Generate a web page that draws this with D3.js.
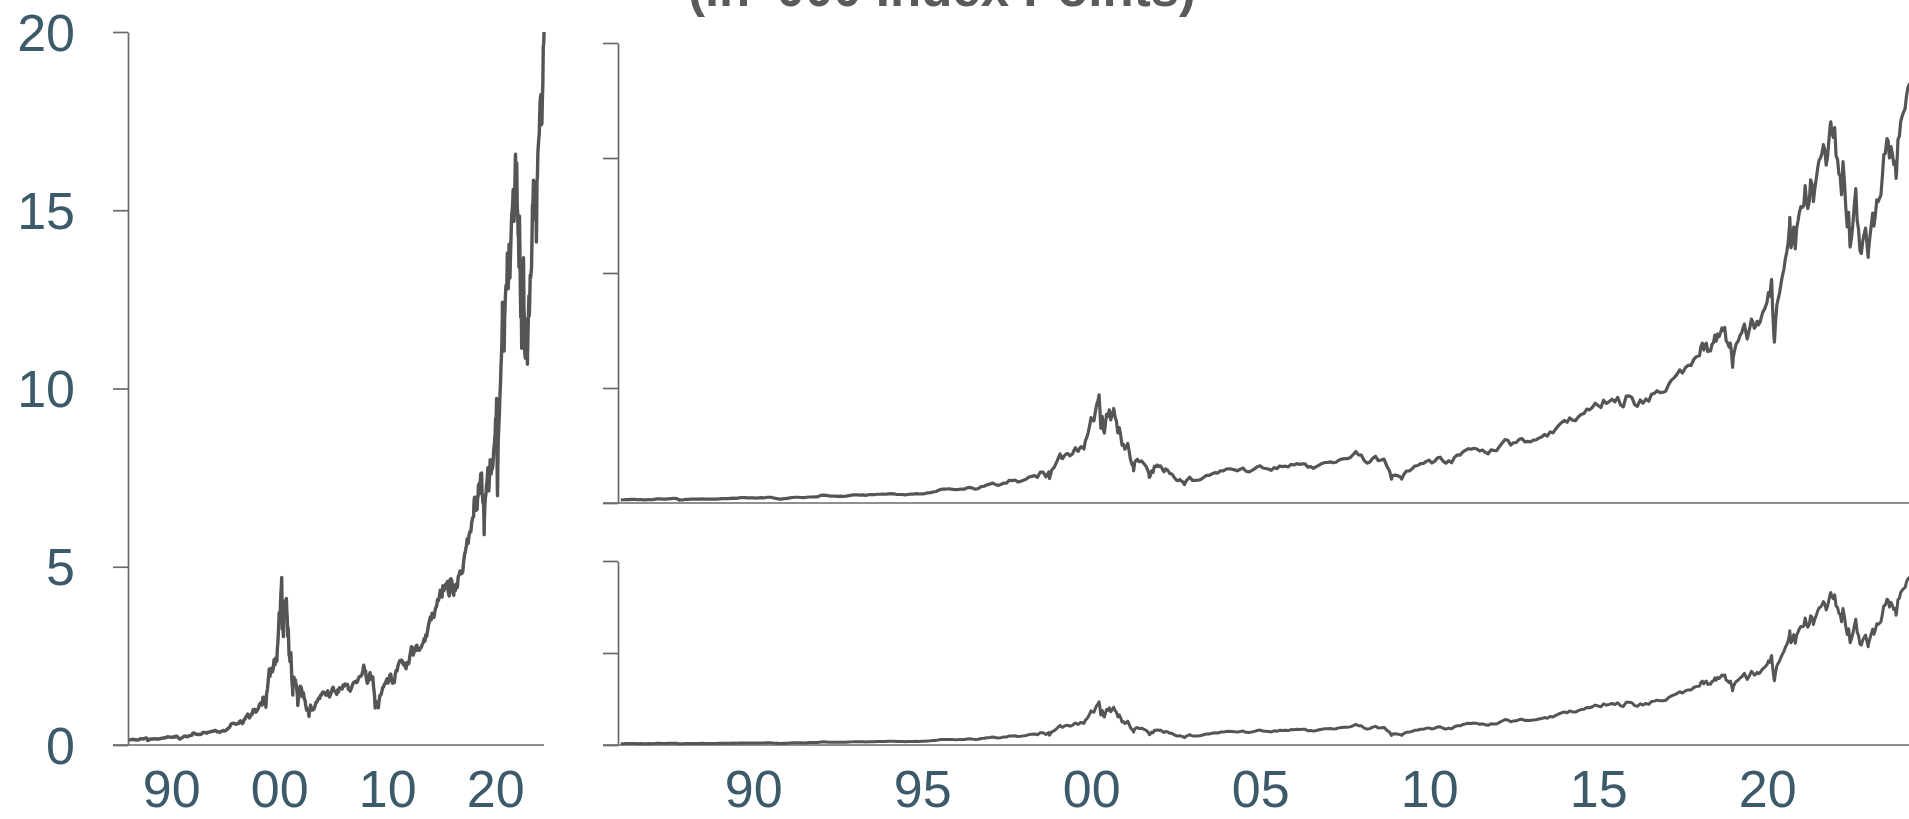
<!DOCTYPE html>
<html><head><meta charset="utf-8">
<script src="https://cdn.jsdelivr.net/npm/d3@7"></script>
<style>html,body{margin:0;padding:0;background:#fff;overflow:hidden}</style>
</head><body>
<svg id="chart" width="1909" height="819"></svg>
<script>
const title = "(in '000 Index Points)";
const years = [1986,1987,1988,1989,1990,1991,1992,1993,1994,1995,1996,1997,1998,1999,2000,2001,2002,2003,2004,2005,2006,2007,2008,2009,2010,2011,2012,2013,2014,2015,2016,2017,2018,2019,2020,2021,2022,2023,2024];
const monthlyClose = [
  [0.13,0.14,0.15,0.15,0.16,0.16,0.14,0.15,0.14,0.14,0.15,0.14],
  [0.16,0.18,0.18,0.17,0.17,0.18,0.19,0.20,0.19,0.14,0.13,0.16],
  [0.16,0.17,0.17,0.17,0.17,0.18,0.17,0.17,0.17,0.17,0.17,0.18],
  [0.19,0.19,0.19,0.20,0.21,0.20,0.22,0.23,0.23,0.22,0.22,0.22],
  [0.21,0.22,0.23,0.22,0.25,0.25,0.23,0.20,0.18,0.17,0.19,0.20],
  [0.22,0.24,0.25,0.25,0.24,0.23,0.25,0.26,0.26,0.27,0.27,0.33],
  [0.34,0.33,0.31,0.30,0.30,0.29,0.30,0.29,0.30,0.32,0.34,0.36],
  [0.35,0.34,0.35,0.33,0.36,0.36,0.36,0.38,0.38,0.39,0.38,0.40],
  [0.41,0.40,0.37,0.37,0.37,0.35,0.37,0.39,0.39,0.41,0.39,0.40],
  [0.41,0.44,0.45,0.48,0.50,0.56,0.60,0.60,0.61,0.61,0.59,0.58],
  [0.59,0.61,0.60,0.66,0.68,0.64,0.60,0.63,0.71,0.73,0.79,0.82],
  [0.87,0.81,0.76,0.80,0.87,0.86,0.99,0.97,1.00,0.92,0.94,0.99],
  [1.04,1.13,1.16,1.19,1.12,1.34,1.34,1.14,1.35,1.42,1.57,1.84],
  [2.13,1.93,2.11,2.13,2.09,2.30,2.28,2.39,2.41,2.71,3.06,3.71],
  [3.57,4.27,4.40,3.77,3.32,3.76,3.61,4.08,3.57,3.28,2.51,2.34],
  [2.59,1.91,1.57,1.85,1.80,1.83,1.68,1.47,1.17,1.33,1.58,1.58],
  [1.55,1.36,1.45,1.28,1.22,1.05,0.97,0.96,0.83,0.99,1.12,0.98],
  [0.98,0.99,1.02,1.11,1.20,1.20,1.27,1.32,1.30,1.40,1.40,1.47],
  [1.49,1.47,1.44,1.40,1.47,1.52,1.38,1.35,1.41,1.48,1.58,1.62],
  [1.52,1.50,1.48,1.42,1.54,1.49,1.61,1.58,1.60,1.57,1.68,1.65],
  [1.71,1.68,1.70,1.70,1.56,1.58,1.51,1.58,1.65,1.72,1.76,1.76],
  [1.79,1.75,1.77,1.86,1.91,1.93,1.93,1.97,2.09,2.24,2.09,2.08],
  [1.84,1.73,1.78,1.94,2.03,1.84,1.87,1.91,1.61,1.38,1.19,1.21],
  [1.18,1.11,1.23,1.39,1.40,1.48,1.61,1.63,1.71,1.72,1.81,1.86],
  [1.74,1.81,1.96,1.99,1.82,1.73,1.84,1.75,1.98,2.09,2.08,2.22],
  [2.30,2.36,2.34,2.38,2.35,2.26,2.30,2.20,2.14,2.31,2.29,2.28],
  [2.46,2.61,2.76,2.73,2.52,2.62,2.63,2.77,2.80,2.66,2.68,2.66],
  [2.73,2.74,2.82,2.87,2.98,2.91,3.09,3.05,3.22,3.37,3.49,3.59],
  [3.51,3.70,3.60,3.58,3.74,3.85,3.89,4.08,4.05,4.16,4.34,4.24],
  [4.15,4.47,4.33,4.41,4.51,4.40,4.59,4.27,4.18,4.65,4.66,4.59],
  [4.28,4.20,4.48,4.34,4.52,4.42,4.73,4.77,4.88,4.80,4.81,4.86],
  [5.15,5.33,5.44,5.58,5.79,5.65,5.88,5.99,5.98,6.25,6.37,6.40],
  [6.95,6.85,6.58,6.61,6.97,7.04,7.23,7.61,7.63,6.97,6.95,6.33],
  [6.91,7.10,7.38,7.78,7.13,7.67,7.85,7.69,7.75,8.08,8.40,8.73],
  [8.99,8.46,7.81,8.89,9.56,10.16,10.91,12.11,11.42,11.05,12.27,12.89],
  [12.93,13.19,13.09,13.86,13.69,14.55,15.00,15.58,14.69,15.85,16.14,16.32],
  [14.93,14.24,14.84,12.85,12.64,11.50,12.95,12.27,10.97,11.41,11.95,10.94],
  [12.10,12.04,13.18,13.25,14.25,15.18,15.76,15.50,14.72,14.41,15.95,16.83],
  [17.14,18.04,18.25,17.44,18.54,19.68]
];
const midYears = [1999,2000,2001,2002,2018,2019,2020,2021,2022,2023,2024];
const midMonthValues = [
  [2.00,1.95,2.05,2.15,2.05,2.15,2.40,2.25,2.45,2.35,2.85,3.35],
  [3.60,3.95,4.45,3.25,3.15,3.85,4.05,3.85,3.75,3.05,2.95,2.55],
  [2.45,2.25,1.70,1.75,1.90,1.80,1.75,1.60,1.30,1.40,1.60,1.65],
  [1.62,1.42,1.48,1.38,1.28,1.12,0.98,1.02,0.93,0.90,1.05,1.06],
  [6.80,6.65,6.95,6.65,6.90,7.30,7.35,7.40,7.50,7.05,6.78,6.40],
  [6.65,7.00,7.30,7.60,7.45,7.40,8.00,7.60,7.90,7.85,8.30,8.55],
  [9.15,9.65,7.20,8.60,9.15,9.90,10.60,11.30,11.10,12.00,11.95,12.65],
  [12.85,13.80,12.80,14.05,13.10,14.10,14.90,15.20,15.35,15.05,16.50,15.90],
  [15.10,14.30,13.40,14.00,12.00,11.15,12.10,13.60,11.90,10.85,11.70,11.25],
  [11.55,12.60,12.50,13.10,13.40,15.15,15.70,15.00,15.20,14.85,15.80,16.60],
  [17.00,17.70,18.20,17.40,18.10,19.60]
];
const spikeDates = ["1987-08-26","1987-10-26","1990-07-16","1990-10-16","1998-10-08","2000-03-27","2000-05-23","2000-09-01","2001-04-04","2001-09-21","2002-10-07","2007-10-31","2008-11-20","2009-03-09","2018-12-24","2020-02-19","2020-03-20","2020-09-02","2021-11-19","2022-06-16","2022-08-16","2022-12-28","2023-07-19","2023-10-26","2024-07-10"];
const spikeValues = [0.20,0.125,0.25,0.165,1.06,4.70,3.04,4.11,1.40,1.11,0.80,2.24,1.04,1.04,5.90,9.72,6.99,12.42,16.57,11.13,13.67,10.68,15.84,14.11,20.0];
const leftYTicks = [0,5,10,15,20];
const leftXTicks = [1990,2000,2010,2020];
const leftXLabels = ["90","00","10","20"];
const rightXTicks = [1990,1995,2000,2005,2010,2015,2020];
const rightXLabels = ["90","95","00","05","10","15","20"];
const topYTicks = [0,5,10,15,20];
const bottomYTicks = [0,10,20];

// build series from the arrays above
const parse = d3.timeParse("%Y-%m-%d");
const series = [];
years.forEach((yr, i) => monthlyClose[i].forEach((v, m) => series.push({date: new Date(yr, m + 1, 0), value: v})));
midYears.forEach((yr, i) => midMonthValues[i].forEach((v, m) => series.push({date: new Date(yr, m, 15), value: v})));
spikeDates.forEach((d, i) => series.push({date: parse(d), value: spikeValues[i]}));
series.sort((a, b) => a.date - b.date);
const lastDate = series[series.length - 1].date;

const svg = d3.select("#chart");
const FONT = "'Liberation Sans', Arial, sans-serif";
const labelColor = "#3d5a6b";
const axisColor = "#6a6a6a";
const lineColor = "#555555";

svg.append("text").attr("x", 942).attr("y", 6).attr("text-anchor", "middle")
  .attr("font-family", FONT).attr("font-size", 51).attr("font-weight", "bold")
  .attr("fill", "#5a5a5a").text(title);

const t0 = new Date(1986, 0, 1), t1 = new Date(2025, 0, 1);
const panels = [
  {x: d3.scaleTime().domain([t0, t1]).range([128, 549.2]), y: d3.scaleLinear().domain([0, 20]).range([745, 32]),
   yTicks: leftYTicks, yLabels: true, xTicks: leftXTicks, xLabels: leftXLabels, lw: 3.4},
  {x: d3.scaleTime().domain([t0, t1]).range([618, 1936.2]), y: d3.scaleLinear().domain([0, 20]).range([503, 43]),
   yTicks: topYTicks, yLabels: false, xTicks: null, lw: 3.2},
  {x: d3.scaleTime().domain([t0, t1]).range([618, 1936.2]), y: d3.scaleLinear().domain([0, 20]).range([745, 561]),
   yTicks: bottomYTicks, yLabels: false, xTicks: rightXTicks, xLabels: rightXLabels, lw: 3.0}
];

panels.forEach(p => {
  const g = svg.append("g");
  const x0 = p.x.range()[0];
  const xEnd = Math.min(p.x(lastDate), 1909);
  // baseline (x axis line)
  g.append("line").attr("x1", x0 - 15).attr("x2", p === panels[0] ? xEnd : 1909).attr("y1", p.y(0)).attr("y2", p.y(0))
    .attr("stroke", axisColor).attr("stroke-width", 1.7);
  // y axis
  const ya = d3.axisLeft(p.y).tickValues(p.yTicks).tickSize(15).tickSizeOuter(0).tickPadding(38)
    .tickFormat(p.yLabels ? d3.format("d") : () => "");
  const yg = g.append("g").attr("transform", `translate(${x0},0)`).call(ya);
  yg.selectAll("path,line").attr("stroke", axisColor).attr("stroke-width", 1.7);
  yg.selectAll("text").attr("font-family", FONT).attr("font-size", 52).attr("fill", labelColor).attr("dy", "0.35em");
  // x labels
  if (p.xTicks) {
    const xa = d3.axisBottom(p.x).tickValues(p.xTicks.map(y => new Date(y, 0, 1))).tickSize(0).tickPadding(0)
      .tickFormat((d, i) => p.xLabels[i]);
    const xg = g.append("g").attr("transform", `translate(0,${p.y(0)})`).call(xa);
    xg.select(".domain").remove();
    xg.selectAll("text").attr("font-family", FONT).attr("font-size", 52).attr("fill", labelColor)
      .attr("y", 62).attr("dy", 0);
  }
  // line
  const line = d3.line().x(d => p.x(d.date)).y(d => p.y(d.value));
  g.append("path").datum(series).attr("d", line).attr("fill", "none")
    .attr("stroke", lineColor).attr("stroke-width", p.lw).attr("stroke-linejoin", "round");
});
</script>
</body></html>
